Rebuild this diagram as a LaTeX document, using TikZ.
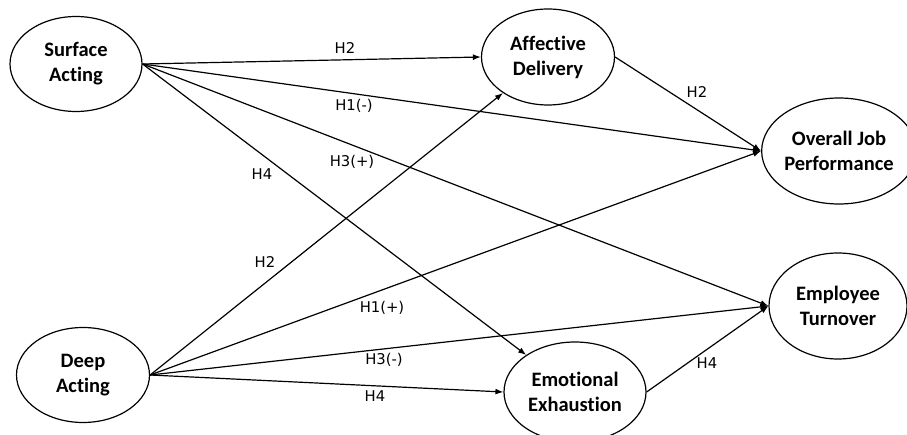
\documentclass[tikz,border=0pt]{standalone}
\usepackage{fontspec}
\setmainfont{Carlito}[Ligatures={NoCommon,NoRare}]
\newfontfamily\labfont{DejaVu Sans}
\usetikzlibrary{shapes.geometric,arrows.meta}
\begin{document}
\begin{tikzpicture}[x=1pt,y=-1pt,
  construct/.style={draw=black,line width=1.2pt,ellipse,inner sep=0pt,
     align=center,font=\fontsize{20.5}{25}\selectfont\bfseries},
  lab/.style={inner sep=0pt,font=\labfont\fontsize{14.8}{16}\selectfont},
  conn/.style={line width=1.2pt,-{Latex[length=8pt,width=6pt]}}]
\useasboundingbox (0,0) rectangle (907,435);
\fill[white] (0,0) rectangle (907,435);
\node[construct,minimum width=132pt,minimum height=95pt] (sa) at (76,64) {Surface\\Acting};
\node[construct,minimum width=133pt,minimum height=96pt] (ad) at (548,57) {Affective\\Delivery};
\node[construct,minimum width=138pt,minimum height=106pt] (ojp) at (839,151) {Overall Job\\Performance};
\node[construct,minimum width=133pt,minimum height=95pt] (da) at (83,375) {Deep\\Acting};
\node[construct,minimum width=142pt,minimum height=100pt] (ee) at (575,392) {Emotional\\Exhaustion};
\node[construct,minimum width=138pt,minimum height=106pt] (et) at (838,306) {Employee\\Turnover};

\draw[conn] (sa.east) -- (ad.west);
\draw[conn] (sa.east) -- (ojp.west);
\draw[conn] (sa.east) -- (et.west);
\draw[conn] (sa.east) -- (ee);
\draw[conn] (da.east) -- (ad);
\draw[conn] (da.east) -- (ojp.west);
\draw[conn] (da.east) -- (et.west);
\draw[conn] (da.east) -- (ee.west);
\draw[conn] (ad.east) -- (ojp.west);
\draw[conn] (ee.east) -- (et.west);

\node[lab] (l1) at (345,48) {H2};
\node[lab] (l2) at (354,106) {H1(-)};
\node[lab] (l3) at (352,162) {H3(+)};
\node[lab] (l4) at (262,174) {H4};
\node[lab] (l5) at (265,262) {H2};
\node[lab] (l6) at (382,308) {H1(+)};
\node[lab] (l7) at (384,360) {H3(-)};
\node[lab] (l8) at (375,396) {H4};
\node[lab] (l9) at (697,92) {H2};
\node[lab] (l10) at (707,363) {H4};
\end{tikzpicture}
\end{document}
